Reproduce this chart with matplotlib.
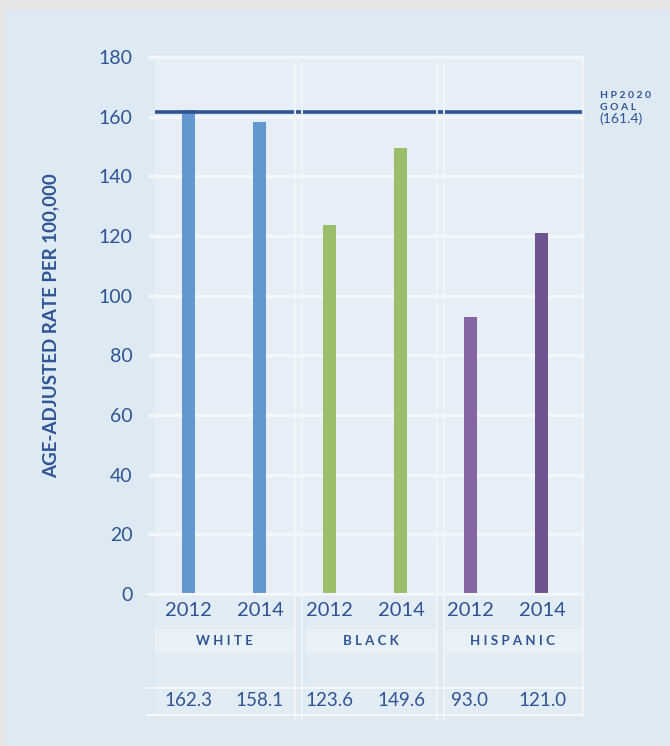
import matplotlib.pyplot as plt
from matplotlib.patches import Rectangle
import numpy as np

groups = ["WHITE", "BLACK", "HISPANIC"]
years = ["2012", "2014"]
rates_2012 = [162.3, 123.6, 93.0]
rates_2014 = [158.1, 149.6, 121.0]
goal = 161.4
yticks = [0, 20, 40, 60, 80, 100, 120, 140, 160, 180]

colors_2012 = ["#6298cf", "#9cbe6b", "#8566a3"]
colors_2014 = ["#6298cf", "#9cbe6b", "#6f5390"]

ink = "#2f5494"
panel = "#deeaf3"
plotbg = "#e6eff7"
grid = "#f3f7fb"

plt.rcParams["font.family"] = ["Lato", "DejaVu Sans"]

W, H = 670, 746
fig = plt.figure(figsize=(W / 100, H / 100), dpi=100)
fig.patch.set_facecolor(panel)


def fx(x):
    return x / W


def fy(y):
    return 1 - y / H


# grey frame strip along the top and left edge
fig.patches.append(Rectangle((0, fy(9)), 1, 1, transform=fig.transFigure,
                             color="#e6e6e6", zorder=0))
fig.patches.append(Rectangle((0, 0), fx(4), 1, transform=fig.transFigure,
                             color="#e6e6e6", zorder=0))

left, right, top, bottom = 155, 582, 57, 594
ax = fig.add_axes([fx(left), fy(bottom), fx(right - left), fy(top) - fy(bottom)])
ax.set_facecolor(plotbg)
for s in ax.spines.values():
    s.set_visible(False)

x = np.arange(len(groups))
off, bw = 0.25, 0.092
ax.set_xlim(-0.49, 2.54)
ax.set_ylim(0, 180)

for yv in yticks:
    ax.axhline(yv, xmin=-0.012, xmax=1.0, color=grid, lw=2.5, zorder=1, clip_on=False)

ax.bar(x - off, rates_2012, width=bw, color=colors_2012, zorder=3)
ax.bar(x + off, rates_2014, width=bw, color=colors_2014, zorder=3)

ax.axhline(goal, xmin=0, xmax=1.003, color=ink, lw=2.6, zorder=4, clip_on=False,
           solid_capstyle="butt")

ax.set_yticks(yticks)
ax.set_yticklabels([str(v) for v in yticks], fontsize=14, color=ink)
ax.tick_params(axis="y", length=0, pad=16)
ax.set_xticks([])
ax.set_ylabel("AGE-ADJUSTED RATE PER 100,000", fontsize=13.5, fontweight="bold",
              color=ink)
ax.yaxis.set_label_coords((59 - left) / (right - left), 0.5)

fig.text(fx(600), fy(91), "H P 2 0 2 0\nG O A L", fontsize=7.5,
         fontweight="bold", color=ink, va="top", ha="left", linespacing=1.45)
fig.text(fx(599), fy(112), "(161.4)", fontsize=10, color=ink, va="top", ha="left")

# table rows under the bars
col_spans = [(155, 293), (306, 436), (444, 581)]
for i, (a, b) in enumerate(col_spans):
    for y0, y1 in [(596, 627), (629, 652), (654, 687), (690, 714)]:
        c = "#e9f1f8" if (y0 == 629) else "#e2ecf5"
        fig.patches.append(Rectangle((fx(a), fy(y1)), fx(b - a), fy(y0) - fy(y1),
                                     transform=fig.transFigure, color=c, zorder=1))
    cx = (x[i] * 141 + 224)
    for j, xx in enumerate([cx - 36, cx + 36]):
        fig.text(fx(xx), fy(611), years[j], fontsize=14.5, color=ink,
                 ha="center", va="center")
    fig.text(fx((a + b) / 2), fy(641), " ".join(groups[i]), fontsize=9.5,
             fontweight="bold", color=ink, ha="center", va="center")
    for j, v in enumerate([rates_2012[i], rates_2014[i]]):
        fig.text(fx(cx - 36 + 72 * j), fy(701), f"{v:.1f}", fontsize=13.5,
                 color=ink, ha="center", va="center")

# white rules of the table
for yy in [594, 688, 715]:
    fig.add_artist(plt.Line2D([fx(147), fx(583)], [fy(yy), fy(yy)], color="#f5f8fb",
                              lw=1.5, transform=fig.transFigure))
for xx in [295, 302, 437, 444]:
    fig.add_artist(plt.Line2D([fx(xx), fx(xx)], [fy(63), fy(720)], color="#f2f6fa",
                              lw=1.3, transform=fig.transFigure))
fig.add_artist(plt.Line2D([fx(583), fx(583)], [fy(57), fy(716)], color="#f2f6fa",
                          lw=1.3, transform=fig.transFigure))

fig.savefig("out.png", dpi=100, facecolor=fig.get_facecolor())
